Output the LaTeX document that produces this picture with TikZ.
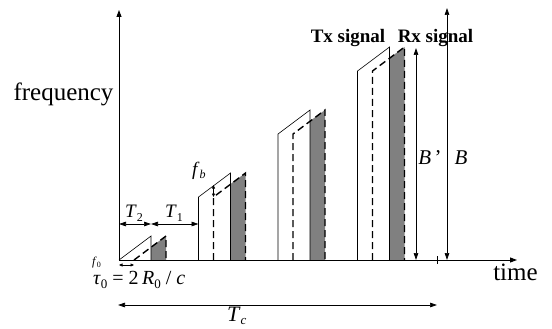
\documentclass[tikz,border=0pt]{standalone}
\usepackage{fontspec}
\setmainfont{Liberation Serif}
\usetikzlibrary{arrows.meta}
\newcommand{\fs}[1]{\fontsize{#1}{#1}\selectfont}
\newcommand{\lsub}[3]{\raisebox{-#1}{\fs{#2}#3}}
\definecolor{rxgray}{RGB}{128,128,128}
\begin{document}
\begin{tikzpicture}[x=1pt,y=-1pt,
  axis/.style={line width=0.9pt,-{Triangle[length=7pt,width=5pt]}},
  dim/.style={line width=0.7pt,{Triangle[length=7pt,width=4.5pt]}-{Triangle[length=7pt,width=4.5pt]}},
  smalldim/.style={line width=0.6pt,{Triangle[length=3.5pt,width=3pt]}-{Triangle[length=3.5pt,width=3pt]}},
  tx/.style={line width=0.6pt},
  rx/.style={line width=1.4pt,dash pattern=on 7pt off 4pt},
  lbl/.style={inner sep=0pt}]
\useasboundingbox (0,0) rectangle (552,329);
\fill[white] (0,0) rectangle (552,329);
% axes
\coordinate (O) at (119,260);
\coordinate (ytop) at (119,10);
\coordinate (xend) at (517,260);
% sweeps
\foreach \xs/\yk in {119/260, 198.5/197, 278/134, 357.5/71}{
  \fill[rxgray] ({\xs+32},260) -- ({\xs+32},{\yk-13}) -- ({\xs+47},{\yk-24}) -- ({\xs+47},260) -- cycle;
  \draw[tx] (\xs,260) -- (\xs,\yk) -- ({\xs+32},{\yk-24}) -- ({\xs+32},260);
  \draw[rx] ({\xs+15},260) -- ({\xs+15},\yk) -- ({\xs+47},{\yk-24}) -- ({\xs+47},260);
}
\draw[axis] (O) -- (ytop);
\draw[axis] (O) -- (xend);
% tick
\coordinate (tk1) at (437,256);
\coordinate (tk2) at (437,264);
\draw[line width=0.6pt] (tk1) -- (tk2);
% T2, T1
\coordinate (t2a) at (119,224);
\coordinate (t2b) at (151,224);
\coordinate (t1b) at (198.5,224);
\draw[dim] (t2a) -- (t2b);
\draw[dim] (t2b) -- (t1b);
% tau0
\coordinate (ta) at (119,265);
\coordinate (tb) at (134,265);
\draw[smalldim] (ta) -- (tb);
% fb
\coordinate (fba) at (213.5,185);
\coordinate (fbb) at (213.5,197);
\draw[smalldim] (fba) -- (fbb);
% Tc
\coordinate (tca) at (118,305);
\coordinate (tcb) at (437,305);
\draw[dim] (tca) -- (tcb);
% B', B
\coordinate (bpa) at (416,48);
\coordinate (bpb) at (416,260);
\draw[dim] (bpa) -- (bpb);
\coordinate (ba) at (447,8);
\coordinate (bb) at (447,260);
\draw[dim] (ba) -- (bb);
% labels
\node[lbl,anchor=base] (freq) at (63.5,100) {\fs{25}frequency};
\node[lbl,anchor=base] (time) at (515.5,280) {\fs{25}time};
\node[lbl,anchor=base] (txs) at (348,43) {\fs{19}\bfseries Tx signal};
\node[lbl,anchor=base] (rxs) at (435.5,43) {\fs{19}\bfseries Rx signal};
\node[lbl,anchor=base] (bpl) at (430,164) {\fs{21}\textit{B}\,'};
\node[lbl,anchor=base] (bl) at (461,164) {\fs{21}\textit{B}};
\node[lbl,anchor=base west] (t2l) at (125,217) {\fs{19}\textit{T}\lsub{4pt}{12}{2}};
\node[lbl,anchor=base west] (t1l) at (165,217) {\fs{19}\textit{T}\lsub{4pt}{12}{1}};
\node[lbl,anchor=base west] (fbl) at (192,175) {\fs{19}\textit{f}\lsub{3pt}{12}{\textit{b}}};
\node[lbl,anchor=base west] (f0l) at (92,265) {\fs{12}\textit{f}\lsub{2pt}{8}{0}};
\node[lbl,anchor=base west] (taul) at (93,284) {\fs{20}\textit{τ}\lsub{4pt}{13}{0} = 2\,\textit{R}\lsub{4pt}{13}{0} / \textit{c}};
\node[lbl,anchor=base west] (tcl) at (227,321) {\fs{22}\textit{T}\lsub{3.5pt}{13}{\textit{c}}};
\end{tikzpicture}
\end{document}
